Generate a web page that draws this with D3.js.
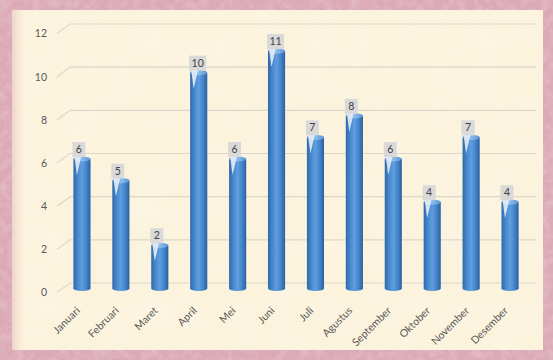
<!DOCTYPE html>
<html>
<head>
<meta charset="utf-8">
<script src="https://cdn.jsdelivr.net/npm/d3@7"></script>
<style>
  html, body { margin: 0; padding: 0; background: #d8a6b3; }
  svg { display: block; font-family: Lato, "Open Sans", sans-serif; }
</style>
</head>
<body>
<svg id="chart" width="553" height="360"></svg>
<script>
// Monthly counts
const months = ["Januari", "Februari", "Maret", "April", "Mei", "Juni",
                "Juli", "Agustus", "September", "Oktober", "November", "Desember"];
const values = [6, 5, 2, 10, 6, 11, 7, 8, 6, 4, 7, 4];
const yTicks = [0, 2, 4, 6, 8, 10, 12];

const W = 553, H = 360;
const svg = d3.select("#chart");
const defs = svg.append("defs");

// Mottled pink frame texture
const tex = defs.append("filter").attr("id", "mottle")
  .attr("x", 0).attr("y", 0).attr("width", "100%").attr("height", "100%");
tex.append("feTurbulence").attr("type", "fractalNoise")
  .attr("baseFrequency", 0.12).attr("numOctaves", 3).attr("seed", 4).attr("result", "n");
tex.append("feColorMatrix").attr("in", "n").attr("type", "matrix")
  .attr("values", "0 0 0 0 0.78  0 0 0 0 0.55  0 0 0 0 0.62  0 0 0 -1.4 0.85");

// Parchment texture for the inner panel
const ptex = defs.append("filter").attr("id", "parch")
  .attr("x", 0).attr("y", 0).attr("width", "100%").attr("height", "100%");
ptex.append("feTurbulence").attr("type", "fractalNoise")
  .attr("baseFrequency", 0.03).attr("numOctaves", 2).attr("seed", 9).attr("result", "n");
ptex.append("feColorMatrix").attr("in", "n").attr("type", "matrix")
  .attr("values", "0 0 0 0 1  0 0 0 0 1  0 0 0 0 1  0 0 0 -0.6 0.35");

// Left edge shading of the panel
const edge = defs.append("linearGradient").attr("id", "leftEdge")
  .attr("x1", 0).attr("x2", 1).attr("y1", 0).attr("y2", 0);
edge.append("stop").attr("offset", 0).attr("stop-color", "#edcfc8").attr("stop-opacity", 0.9);
edge.append("stop").attr("offset", 1).attr("stop-color", "#fbf1dc").attr("stop-opacity", 0);

// Cylinder shading
const cyl = defs.append("linearGradient").attr("id", "cyl")
  .attr("x1", 0).attr("x2", 1).attr("y1", 0).attr("y2", 0);
[[0, "#2f69ad"], [0.25, "#4787cc"], [0.5, "#5f9fe0"], [0.8, "#3f7fc4"], [1, "#2a5f9e"]]
  .forEach(([o, c]) => cyl.append("stop").attr("offset", o).attr("stop-color", c));
const cap = defs.append("linearGradient").attr("id", "cap")
  .attr("x1", 0).attr("x2", 1).attr("y1", 0).attr("y2", 0);
[[0, "#5a95d6"], [0.5, "#8cbcec"], [1, "#5a95d6"]]
  .forEach(([o, c]) => cap.append("stop").attr("offset", o).attr("stop-color", c));

// Frame and panel
svg.append("rect").attr("width", W).attr("height", H).attr("fill", "#dcaab7");
svg.append("rect").attr("width", W).attr("height", H).attr("filter", "url(#mottle)");
const panel = { x: 12, y: 10, w: 531, h: 340 };
svg.append("rect").attr("x", panel.x).attr("y", panel.y)
  .attr("width", panel.w).attr("height", panel.h).attr("fill", "#fcf3dd");
svg.append("rect").attr("x", panel.x).attr("y", panel.y)
  .attr("width", panel.w).attr("height", panel.h).attr("filter", "url(#parch)").attr("opacity", 0.5);
svg.append("rect").attr("x", panel.x).attr("y", panel.y)
  .attr("width", 16).attr("height", panel.h).attr("fill", "url(#leftEdge)");

// Scales: y is measured on the front edge of the floor
const y = d3.scaleLinear().domain([0, 12]).range([292.5, 33.5]);
const x = d3.scaleBand().domain(months).range([62.5, 529.5]).paddingInner(0.56).paddingOuter(0.28);
const depthX = 13, depthY = 9.5;   // floor depth offset of the back wall
const barShift = 4;                 // bars stand midway in depth
const gridLeft = 57, gridRight = 536;

// Gridlines: short slanted floor segment then the back-wall line
const grid = svg.append("g");
yTicks.forEach(v => {
  const yf = y(v);
  grid.append("path")
    .attr("d", `M${gridLeft},${yf}L${gridLeft + depthX},${yf - depthY}H${gridRight}`)
    .attr("fill", "none").attr("stroke", "#dcd7ca").attr("stroke-width", 1.2);
});

// Y axis labels
const yAxis = d3.axisLeft(y).tickValues(yTicks).tickSize(0).tickPadding(0);
const gy = svg.append("g").attr("transform", `translate(${47},0)`).call(yAxis);
gy.select(".domain").remove();
gy.selectAll("text").attr("fill", "#595959").attr("font-size", 10.5)
  .attr("font-family", "Lato, 'Open Sans', sans-serif");

// Cylinder bars
const bw = x.bandwidth();
const ry = 2.6;
const bars = svg.append("g").selectAll("g").data(values).join("g")
  .attr("transform", (d, i) => `translate(${x(months[i])},0)`);
bars.append("ellipse").attr("cx", bw / 2).attr("cy", y(0) - barShift)
  .attr("rx", bw / 2).attr("ry", ry).attr("fill", "url(#cyl)");
bars.append("rect").attr("x", 0).attr("width", bw)
  .attr("y", d => y(d) - barShift)
  .attr("height", d => y(0) - y(d))
  .attr("fill", "url(#cyl)");
bars.append("ellipse").attr("cx", bw / 2).attr("cy", d => y(d) - barShift)
  .attr("rx", bw / 2).attr("ry", ry).attr("fill", "url(#cap)");

// Data labels with callout pointers
const labels = svg.append("g").selectAll("g").data(values).join("g")
  .attr("transform", (d, i) => `translate(${x(months[i]) - 1},${y(d) - barShift - 2})`);
labels.append("path")
  .attr("d", "M2,-1L9,-1L4.5,18Z")
  .attr("fill", "#eef3f8").attr("opacity", 0.85);
labels.append("rect")
  .attr("x", 0).attr("y", -15)
  .attr("width", d => d >= 10 ? 17 : 13).attr("height", 15)
  .attr("fill", "#d9d9d9");
labels.append("text")
  .attr("x", d => d >= 10 ? 8.5 : 6.5).attr("y", -4)
  .attr("text-anchor", "middle").attr("font-size", 10.5).attr("fill", "#404040")
  .text(d => d);

// Rotated month labels
const xAxis = d3.axisBottom(x).tickSize(0).tickPadding(0);
const gx = svg.append("g").attr("transform", `translate(-2,${312})`).call(xAxis);
gx.select(".domain").remove();
gx.selectAll("text")
  .attr("fill", "#595959").attr("font-size", 10.5)
  .attr("font-family", "Lato, 'Open Sans', sans-serif")
  .attr("text-anchor", "end").attr("dy", 0).attr("y", 0).attr("x", 1)
  .attr("transform", "rotate(-45)");
</script>
</body>
</html>
